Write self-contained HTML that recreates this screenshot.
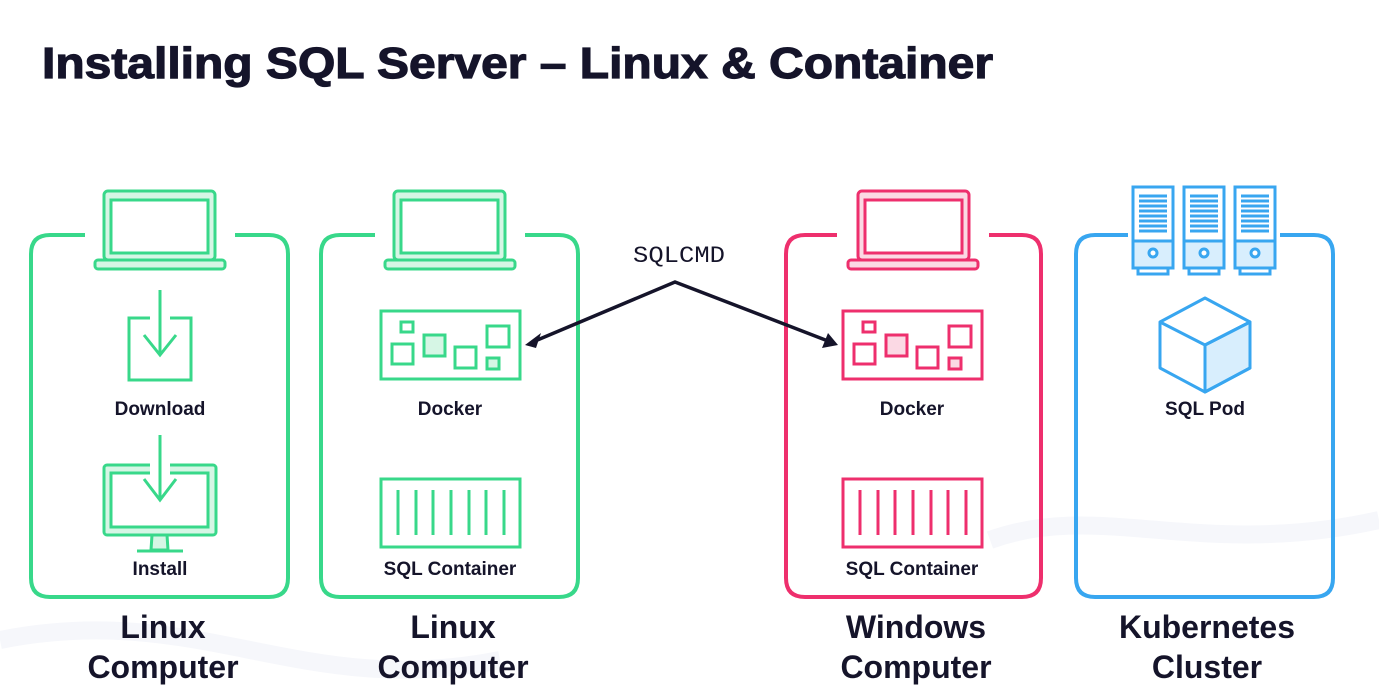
<!DOCTYPE html>
<html><head><meta charset="utf-8"><style>
html,body{margin:0;padding:0;background:#fff;}
svg{display:block;}
text{font-family:"Liberation Sans",sans-serif;}
</style></head><body>
<svg width="1379" height="697" viewBox="0 0 1379 697" xmlns="http://www.w3.org/2000/svg">
<rect width="1379" height="697" fill="#fff"/>
<path d="M0 640 C200 600 300 700 500 660 M990 540 C1100 500 1200 560 1379 520" stroke="#f6f7fb" stroke-width="18" fill="none"/>
<text x="42" y="78" font-size="44" font-weight="bold" fill="#15142a" stroke="#15142a" stroke-width="1.2" textLength="951" lengthAdjust="spacingAndGlyphs">Installing SQL Server – Linux &amp; Container</text>

<g stroke="#38d88a" stroke-width="4" fill="none">
<path d="M85 235 H50 Q31 235 31 254 V578 Q31 597 50 597 H269 Q288 597 288 578 V254 Q288 235 269 235 H235"/>
<path d="M375 235 H340 Q321 235 321 254 V578 Q321 597 340 597 H559 Q578 597 578 578 V254 Q578 235 559 235 H525"/>
</g>
<g stroke="#38d88a" stroke-width="3">
<rect x="104" y="191" width="111" height="69" rx="4" fill="#d6f6e5"/>
<rect x="111" y="200" width="97" height="53" fill="#fff"/>
<rect x="95" y="260" width="130" height="9" rx="3" fill="#d6f6e5"/>
<rect x="394" y="191" width="111" height="69" rx="4" fill="#d6f6e5"/>
<rect x="401" y="200" width="97" height="53" fill="#fff"/>
<rect x="385" y="260" width="130" height="9" rx="3" fill="#d6f6e5"/>
</g>
<g stroke="#38d88a" stroke-width="3" fill="none">
<path d="M150 318 H129 V380 H191 V318 H170"/>
<path d="M160 290 V355 M144 335 L160 355 L176 335"/>
<path d="M152 535 L151 550 H168 L167 535 Z" fill="#d6f6e5"/>
<rect x="104" y="465" width="112" height="70" rx="3" fill="#d6f6e5"/>
<rect x="111" y="473" width="97" height="54" fill="#fff"/>
<path d="M137 551 H183"/>
<rect x="150" y="460" width="20" height="16" fill="#fff" stroke="none"/>
<path d="M160 435 V500 M144 479 L160 500 L176 479"/>
</g>
<text x="160" y="415" font-size="19" font-weight="bold" fill="#15142a" text-anchor="middle">Download</text>
<text x="160" y="575" font-size="19" font-weight="bold" fill="#15142a" text-anchor="middle">Install</text>

<g stroke="#38d88a" stroke-width="3" fill="none">
<rect x="381" y="311" width="139" height="68"/>
<rect x="401" y="322" width="12" height="10"/>
<rect x="392" y="344" width="21" height="20"/>
<rect x="424" y="335" width="21" height="21" fill="#d6f6e5"/>
<rect x="455" y="347" width="21" height="21"/>
<rect x="487" y="326" width="22" height="21"/>
<rect x="487" y="358" width="12" height="11" fill="#d6f6e5"/>
<rect x="381" y="479" width="139" height="68"/>
<path d="M398 490V535M416 490V535M433 490V535M451 490V535M469 490V535M486 490V535M504 490V535"/>
</g>
<text x="450" y="415" font-size="19" font-weight="bold" fill="#15142a" text-anchor="middle">Docker</text>
<text x="450" y="575" font-size="19" font-weight="bold" fill="#15142a" text-anchor="middle">SQL Container</text>

<g stroke="#ee2f6d" stroke-width="4" fill="none">
<path d="M837 235 H805 Q786 235 786 254 V578 Q786 597 805 597 H1022 Q1041 597 1041 578 V254 Q1041 235 1022 235 H989"/>
</g>
<g stroke="#ee2f6d" stroke-width="3">
<rect x="858" y="191" width="111" height="69" rx="4" fill="#fbd9e4"/>
<rect x="865" y="200" width="97" height="53" fill="#fff"/>
<rect x="848" y="260" width="130" height="9" rx="3" fill="#fbd9e4"/>
</g>
<g stroke="#ee2f6d" stroke-width="3" fill="none" transform="translate(462,0)">
<rect x="381" y="311" width="139" height="68"/>
<rect x="401" y="322" width="12" height="10"/>
<rect x="392" y="344" width="21" height="20"/>
<rect x="424" y="335" width="21" height="21" fill="#fbd9e4"/>
<rect x="455" y="347" width="21" height="21"/>
<rect x="487" y="326" width="22" height="21"/>
<rect x="487" y="358" width="12" height="11" fill="#fbd9e4"/>
<rect x="381" y="479" width="139" height="68"/>
<path d="M398 490V535M416 490V535M433 490V535M451 490V535M469 490V535M486 490V535M504 490V535"/>
</g>
<text x="912" y="415" font-size="19" font-weight="bold" fill="#15142a" text-anchor="middle">Docker</text>
<text x="912" y="575" font-size="19" font-weight="bold" fill="#15142a" text-anchor="middle">SQL Container</text>

<g stroke="#38a6f0" stroke-width="4" fill="none">
<path d="M1128 235 H1095 Q1076 235 1076 254 V578 Q1076 597 1095 597 H1314 Q1333 597 1333 578 V254 Q1333 235 1314 235 H1280"/>
</g>
<g stroke="#38a6f0" stroke-width="3" fill="#fff">
<g id="srv">
<rect x="1133" y="187" width="40" height="81"/>
<rect x="1133" y="241" width="40" height="27" fill="#d8eefd"/>
<rect x="1138" y="268" width="30" height="6"/>
<circle cx="1153" cy="253" r="4"/>
<path d="M1139 196H1167M1139 201H1167M1139 206H1167M1139 211H1167M1139 216H1167M1139 221H1167M1139 226H1167M1139 231H1167"/>
</g>
<use href="#srv" x="51"/>
<use href="#srv" x="102"/>
</g>
<g stroke="#38a6f0" stroke-width="3" stroke-linejoin="round">
<path d="M1205 345 L1250 322 L1250 368 L1205 392 Z" fill="#d8eefd"/>
<path d="M1205 298 L1250 322 L1250 368 L1205 392 L1160 368 L1160 322 Z M1160 322 L1205 345 L1250 322 M1205 345 V392" fill="none"/>
</g>
<text x="1205" y="415" font-size="19" font-weight="bold" fill="#15142a" text-anchor="middle">SQL Pod</text>

<text x="633" y="262" style="font-family:'Liberation Mono',monospace" font-size="23" fill="#15142a" textLength="92" lengthAdjust="spacingAndGlyphs">SQLCMD</text>
<g stroke="#15142a" stroke-width="3.5" fill="none">
<path d="M535 341 L675 282 L828 341"/>
</g>
<path d="M525 345 L541 333 L536 348 Z" fill="#15142a"/>
<path d="M838 345 L822 348 L828 333 Z" fill="#15142a"/>

<g font-size="32" font-weight="bold" fill="#15142a" text-anchor="middle">
<text x="163" y="638">Linux</text><text x="163" y="678">Computer</text>
<text x="453" y="638">Linux</text><text x="453" y="678">Computer</text>
<text x="916" y="638">Windows</text><text x="916" y="678">Computer</text>
<text x="1207" y="638">Kubernetes</text><text x="1207" y="678">Cluster</text>
</g>
</svg>
</body></html>
